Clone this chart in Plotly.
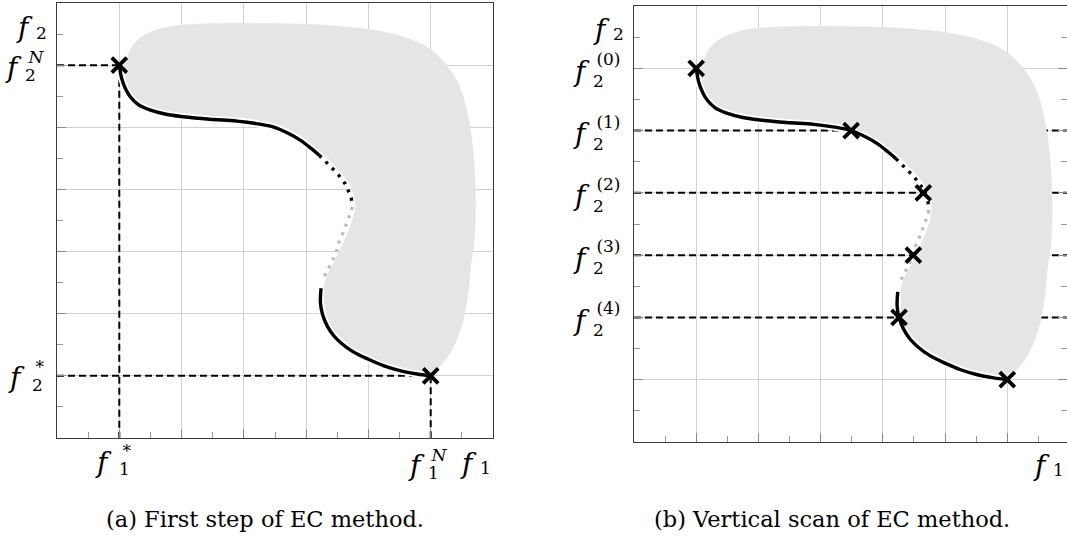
import plotly.graph_objects as go

W, H = 1067, 538

# ---- Pareto front of the bi-objective problem, split by line style ----
upper_x = [1.00, 1.04, 1.10, 1.17, 1.30, 1.49, 1.75, 2.03, 2.45, 2.89, 3.20, 3.49, 3.72, 3.91, 4.08, 4.21]
upper_y = [6.00, 5.78, 5.62, 5.50, 5.37, 5.28, 5.21, 5.17, 5.13, 5.10, 5.06, 5.00, 4.90, 4.79, 4.66, 4.55]

black_dot_x = [4.21, 4.31, 4.40, 4.49, 4.56, 4.62, 4.65, 4.69, 4.72, 4.74]
black_dot_y = [4.55, 4.45, 4.36, 4.27, 4.18, 4.10, 4.03, 3.95, 3.88, 3.72]

gray_dot_x = [4.74, 4.72, 4.69, 4.65, 4.61, 4.56, 4.51, 4.49, 4.45, 4.40, 4.33, 4.26]
gray_dot_y = [3.72, 3.64, 3.56, 3.45, 3.35, 3.22, 3.11, 3.01, 2.92, 2.81, 2.68, 2.54]

lower_x = [4.24, 4.23, 4.23, 4.26, 4.34, 4.44, 4.56, 4.75, 4.99, 5.25, 5.52, 5.78, 6.00]
lower_y = [2.41, 2.28, 2.17, 2.00, 1.80, 1.65, 1.53, 1.39, 1.27, 1.16, 1.08, 1.03, 1.00]

# ---- feasible objective region (outline) ----
region_x = [1.12, 1.22, 1.40, 1.72, 2.09, 2.57, 3.37, 4.17, 4.97, 5.51, 5.94, 6.26, 6.47, 6.60,
            6.68, 6.72, 6.70, 6.64, 6.60, 6.52, 6.39, 6.23, 6.04, 5.80, 5.50, 5.00, 4.60, 4.40,
            4.31, 4.29, 4.29, 4.34, 4.46, 4.58, 4.69, 4.77, 4.79, 4.74, 4.62, 4.44, 4.24, 3.96,
            3.55, 2.90, 2.05, 1.50, 1.22, 1.10, 1.07]
region_y = [6.12, 6.32, 6.48, 6.60, 6.65, 6.67, 6.67, 6.65, 6.58, 6.47, 6.29, 5.99, 5.64, 5.16,
            4.62, 3.82, 3.18, 2.75, 2.32, 1.89, 1.52, 1.25, 1.08, 1.05, 1.13, 1.31, 1.57, 1.80,
            2.00, 2.20, 2.45, 2.62, 2.85, 3.10, 3.35, 3.60, 3.78, 4.00, 4.20, 4.40, 4.60, 4.78,
            5.04, 5.14, 5.21, 5.31, 5.50, 5.75, 6.00]

# ---- (a) ideal and nadir values ----
f1_ideal, f2_ideal = 1.0, 1.0
f1_nadir, f2_nadir = 6.0, 6.0

# ---- (b) epsilon-constraint scan ----
eps_index = ["(0)", "(1)", "(2)", "(3)", "(4)"]
eps_levels = [6.0, 5.0, 4.0, 3.0, 2.0]
scan_f1 = [1.00, 3.49, 4.65, 4.49, 4.26, 6.00]
scan_f2 = [6.00, 5.00, 4.00, 3.00, 2.00, 1.00]

X_MAX_B = 6.96

REGION = "#e5e5e5"
DASH = "7px,4px"
SERIF = "DejaVu Serif, Liberation Serif, serif"

fig = go.Figure()


def add_front(xa, ya):
    # white halo keeps the front visually separated from the region
    for xs, ys in ((upper_x, upper_y), (lower_x, lower_y)):
        fig.add_trace(go.Scatter(x=xs, y=ys, xaxis=xa, yaxis=ya, mode="lines",
                                 line=dict(color="white", width=7, shape="spline"),
                                 hoverinfo="skip", showlegend=False))
    fig.add_trace(go.Scatter(x=upper_x, y=upper_y, xaxis=xa, yaxis=ya, mode="lines",
                             line=dict(color="black", width=3.4, shape="spline"),
                             showlegend=False))
    fig.add_trace(go.Scatter(x=black_dot_x, y=black_dot_y, xaxis=xa, yaxis=ya, mode="lines",
                             line=dict(color="black", width=3.4, shape="spline", dash="3px,6px"),
                             showlegend=False))
    fig.add_trace(go.Scatter(x=gray_dot_x, y=gray_dot_y, xaxis=xa, yaxis=ya, mode="lines",
                             line=dict(color="#bdbdbd", width=3.4, shape="spline", dash="3px,6px"),
                             showlegend=False))
    fig.add_trace(go.Scatter(x=lower_x, y=lower_y, xaxis=xa, yaxis=ya, mode="lines",
                             line=dict(color="black", width=3.4, shape="spline"),
                             showlegend=False))


def add_region(xa, ya):
    fig.add_trace(go.Scatter(x=region_x + [region_x[0]], y=region_y + [region_y[0]],
                             xaxis=xa, yaxis=ya, mode="lines", fill="toself",
                             fillcolor=REGION, line=dict(color=REGION, width=0.5, shape="spline"),
                             hoverinfo="skip", showlegend=False))


def dashed(xs, ys, xa, ya):
    fig.add_trace(go.Scatter(x=xs, y=ys, xaxis=xa, yaxis=ya, mode="lines",
                             line=dict(color="black", width=2, dash=DASH),
                             hoverinfo="skip", showlegend=False))


def crosses(xs, ys, xa, ya):
    fig.add_trace(go.Scatter(x=xs, y=ys, xaxis=xa, yaxis=ya, mode="markers",
                             marker=dict(symbol="x-thin", size=15,
                                         line=dict(color="black", width=3.8)),
                             showlegend=False))


# ---------------- panel (a) ----------------
dashed([0, f1_ideal, f1_ideal], [f2_nadir, f2_nadir, 0], "x", "y")
dashed([0, f1_nadir, f1_nadir], [f2_ideal, f2_ideal, 0], "x", "y")
add_region("x", "y")
add_front("x", "y")
crosses([f1_ideal, f1_nadir], [f2_nadir, f2_ideal], "x", "y")

# ---------------- panel (b) ----------------
for lvl in eps_levels[1:]:
    dashed([0, X_MAX_B], [lvl, lvl], "x2", "y2")
add_region("x2", "y2")
add_front("x2", "y2")
crosses(scan_f1, scan_f2, "x2", "y2")


def axis(domain, rng, mirror=True):
    return dict(domain=domain, range=rng, dtick=1, tick0=0,
                showgrid=True, gridcolor="#d2d2d2", gridwidth=1,
                ticks="inside", ticklen=9, tickwidth=1, tickcolor="#8a8a8a",
                minor=dict(ticks="inside", ticklen=6, tickwidth=1, tickcolor="#9a9a9a",
                           dtick=0.5, tick0=0, showgrid=False),
                showline=True, linecolor="#3a3a3a", linewidth=1.3, mirror=mirror,
                showticklabels=False, zeroline=False, fixedrange=True)


fig.update_layout(
    width=W, height=H, margin=dict(l=0, r=0, t=0, b=0),
    paper_bgcolor="white", plot_bgcolor="white",
    xaxis=axis([57 / W, 493 / W], [0, 7]),
    yaxis=axis([1 - 438 / H, 1 - 3 / H], [0, 7]),
    xaxis2=axis([634 / W, 1.0], [0, X_MAX_B]),
    yaxis2=axis([1 - 442 / H, 1 - 6 / H], [0, 7], mirror="ticks"),
)
fig.layout.xaxis2.anchor = "y2"
fig.layout.yaxis2.anchor = "x2"

FS, SS = 28, 17
ann = []


def put(xref, x, yref, y, dx, dy, s, size, anchor):
    ann.append(dict(xref=xref, x=x, yref=yref, y=y, xshift=dx, yshift=-dy, text=s,
                    showarrow=False, xanchor=anchor, yanchor="middle", align="left",
                    borderpad=0, font=dict(family=SERIF, size=size, color="black")))


def sym(xref, x, yref, y, dx, dy, sub, sup=None, idx_dy=0, gap=18, idx_dx=1):
    # italic f ending at the anchor; indices start there, superscript stacked over subscript
    put(xref, x, yref, y, dx, dy, "<i>f</i>", FS, "right")
    if sup is None:
        put(xref, x, yref, y, dx + idx_dx, dy + 5 + idx_dy, sub, SS, "left")
    else:
        line = '<span style="font-size:%dpx">%s</span>'
        stack = line % (SS, "\u2009" + sup) + "<br>" + line % (SS, sub)
        put(xref, x, yref, y, dx + idx_dx, dy + idx_dy, stack, gap / 1.3, "left")


# labels of panel (a): axis left at px 57, axis bottom at px 438
sym("paper", 34 / W, "paper", 1 - 28 / H, 0, 0, "2")
sym("x domain", 0, "y", f2_nadir, 23 - 57, 2, "2", "<i>N</i>", idx_dy=-1)
sym("x domain", 0, "y", f2_ideal, 26 - 57, 2, "2", "*", idx_dy=-2, idx_dx=5)
sym("x", f1_ideal, "y domain", 0, -6, 24, "1", "*", idx_dy=-2, idx_dx=5)
sym("x", f1_nadir, "y domain", 0, -5, 27, "1", "<i>N</i>", idx_dy=-1)
sym("paper", 478 / W, "paper", 1 - 463 / H, 0, 0, "1")

# labels of panel (b): axis left at px 634, axis bottom at px 442
sym("paper", 611 / W, "paper", 1 - 29 / H, 0, 0, "2")
for k, lvl in zip(eps_index, eps_levels):
    sym("x2 domain", 0, "y2", lvl, 591 - 634, 3, "2", k, idx_dy=-1, gap=22)
sym("paper", 1051 / W, "paper", 1 - 465 / H, 0, 0, "1")

# captions
for cx, cap in ((265, "(a) First step of EC method."), (832, "(b) Vertical scan of EC method.")):
    ann.append(dict(xref="paper", x=cx / W, yref="paper", y=1 - 519 / H, showarrow=False,
                    text=cap, xanchor="center", yanchor="middle",
                    font=dict(family=SERIF, size=22.5, color="black")))

fig.update_layout(annotations=ann)
fig.write_html("out.html")
